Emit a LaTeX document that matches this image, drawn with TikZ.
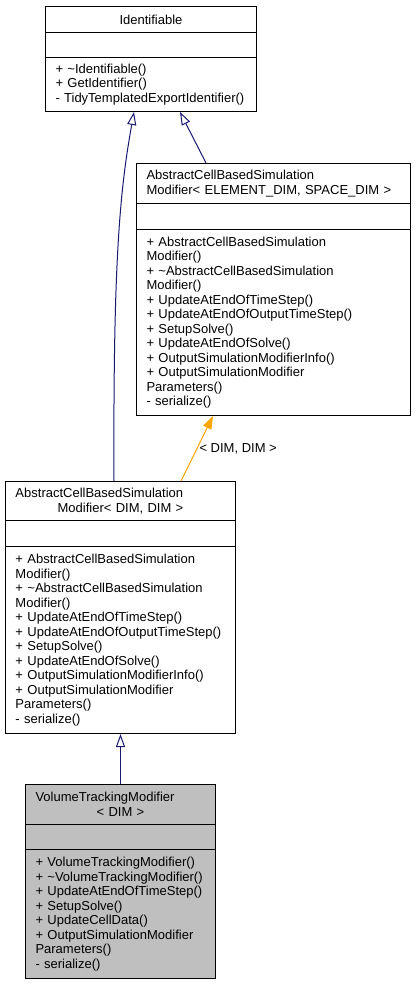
\documentclass[tikz,border=0pt]{standalone}
\usepackage{fontspec}
\setmainfont{Liberation Sans}
\usetikzlibrary{arrows.meta,calc}
\definecolor{edgeblue}{HTML}{191970}
\definecolor{edgeorange}{HTML}{FFA500}
\definecolor{classgray}{HTML}{BFBFBF}

\begin{document}
\begin{tikzpicture}[x=1pt, y=-1pt, line width=1pt,
    cls/.style={draw, anchor=north west, inner xsep=10pt, inner ysep=0pt,
      align=left, text width=#1, font=\fontsize{13}{14.5}\selectfont},
    inherit/.style={draw=edgeblue, -{Triangle[open, length=13pt, width=9pt]}},
    tmpl/.style={draw=edgeorange, -{Triangle[length=13pt, width=9pt]}}]
  \useasboundingbox (0,0) rectangle (415,984);

  % Identifiable
  \node[cls=191pt, align=center, minimum height=26pt] (A1) at (45,6) {Identifiable};
  \node[cls=191pt, minimum height=25pt] (A2) at (45,32) {};
  \node[cls=191pt, minimum height=54pt] (A3) at (45,57)
    {+ \textasciitilde Identifiable()\\+ GetIdentifier()\\- TidyTemplatedExportIdentifier()};

  % AbstractCellBasedSimulationModifier< ELEMENT_DIM, SPACE_DIM >
  \node[cls=254pt, minimum height=40pt] (B1) at (136,163)
    {AbstractCellBasedSimulation\\Modifier< ELEMENT\_DIM, SPACE\_DIM >};
  \node[cls=254pt, minimum height=26pt] (B2) at (136,203) {};
  \node[cls=254pt, minimum height=186pt] (B3) at (136,229)
    {+ AbstractCellBasedSimulation\\Modifier()\\+ \textasciitilde AbstractCellBasedSimulation\\Modifier()\\
     + UpdateAtEndOfTimeStep()\\+ UpdateAtEndOfOutputTimeStep()\\+ SetupSolve()\\+ UpdateAtEndOfSolve()\\
     + OutputSimulationModifierInfo()\\+ OutputSimulationModifier\\Parameters()\\- serialize()};

  % AbstractCellBasedSimulationModifier< DIM, DIM >
  \node[cls=210pt, minimum height=39pt] (C1) at (5,481)
    {AbstractCellBasedSimulation\\\hspace*{\fill}Modifier< DIM, DIM >\hspace*{\fill}\mbox{}};
  \node[cls=210pt, minimum height=26pt] (C2) at (5,520) {};
  \node[cls=210pt, minimum height=187pt] (C3) at (5,546)
    {+ AbstractCellBasedSimulation\\Modifier()\\+ \textasciitilde AbstractCellBasedSimulation\\Modifier()\\
     + UpdateAtEndOfTimeStep()\\+ UpdateAtEndOfOutputTimeStep()\\+ SetupSolve()\\+ UpdateAtEndOfSolve()\\
     + OutputSimulationModifierInfo()\\+ OutputSimulationModifier\\Parameters()\\- serialize()};

  % VolumeTrackingModifier< DIM >
  \node[cls=170pt, fill=classgray, minimum height=40pt] (D1) at (25,784)
    {VolumeTrackingModifier\\\hspace*{\fill}< DIM >\hspace*{\fill}\mbox{}};
  \node[cls=170pt, fill=classgray, minimum height=25pt] (D2) at (25,824) {};
  \node[cls=170pt, fill=classgray, minimum height=129pt] (D3) at (25,849)
    {+ VolumeTrackingModifier()\\+ \textasciitilde VolumeTrackingModifier()\\+ UpdateAtEndOfTimeStep()\\
     + SetupSolve()\\+ UpdateCellData()\\+ OutputSimulationModifier\\Parameters()\\- serialize()};

  \draw[inherit] (D1.north) -- (C3.south);
  \draw[inherit] ($(C1.north west)+(109,0)$) .. controls (113,260) and (120,190) ..
    ($(A3.south west)+(89,0)$);
  \draw[inherit] ($(B1.north west)+(70,0)$) -- ($(A3.south west)+(135,0)$);
  \draw[tmpl] ($(C1.north west)+(176,0)$) -- ($(B3.south west)+(77,0)$)
    node[midway, right, inner sep=2pt, font=\fontsize{13}{14.5}\selectfont] {< DIM, DIM >};
\end{tikzpicture}
\end{document}
